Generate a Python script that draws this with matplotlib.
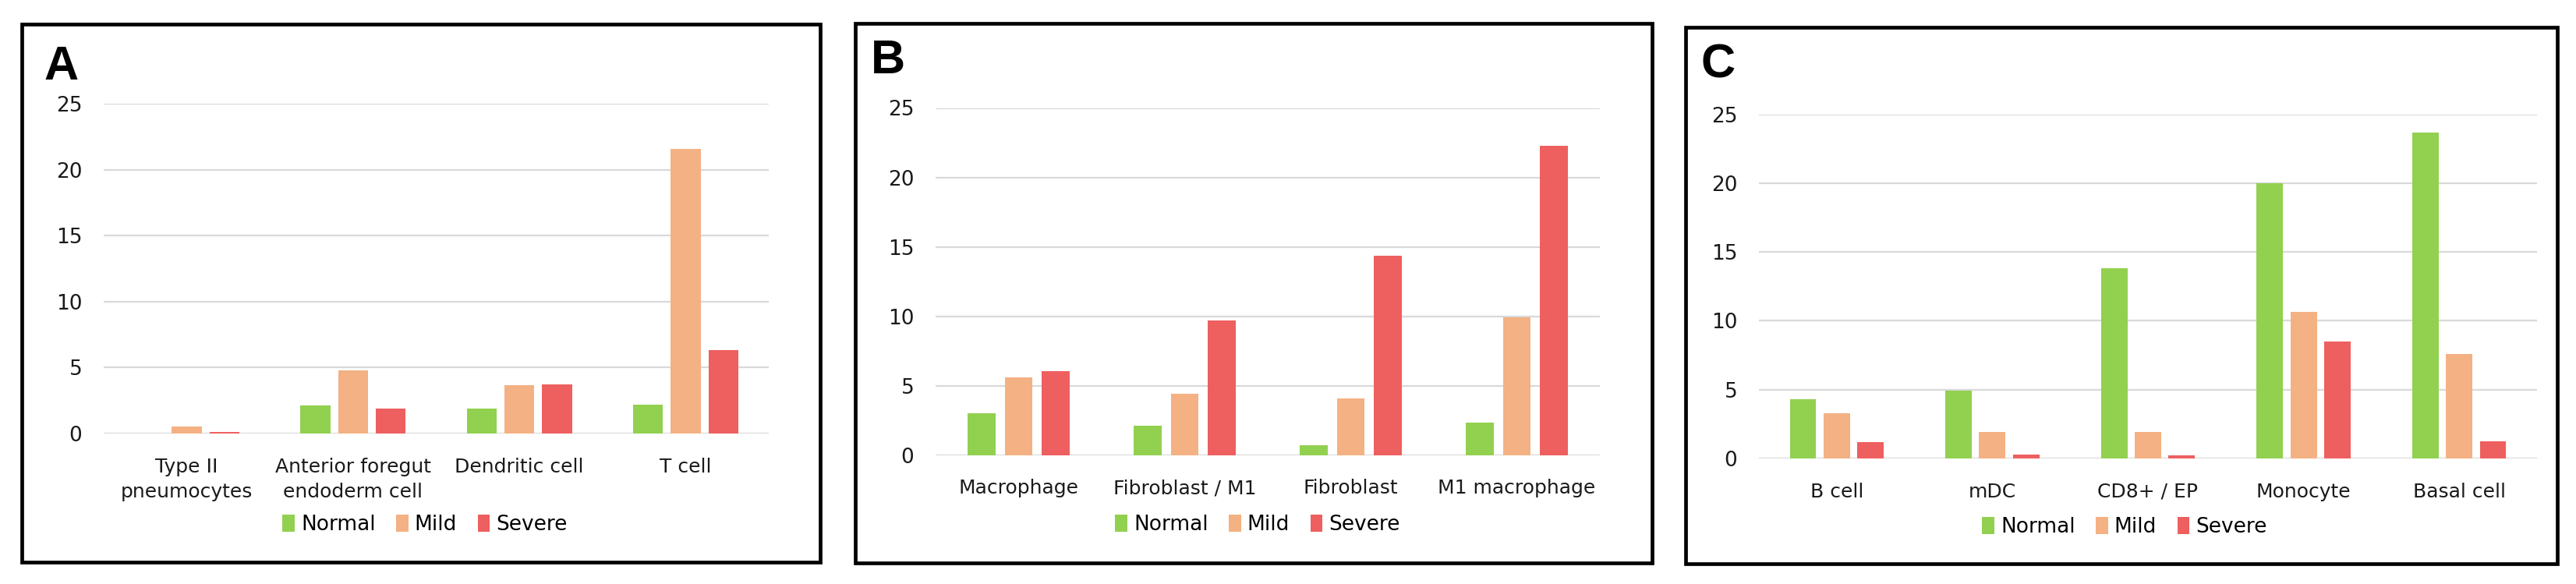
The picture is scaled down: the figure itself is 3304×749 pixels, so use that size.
import matplotlib
matplotlib.use("Agg")
import matplotlib.pyplot as plt
from matplotlib.patches import Rectangle, Patch
import numpy as np

plt.rcParams['font.family'] = ['Liberation Sans Narrow', 'DejaVu Sans']

# data
series = ['Normal', 'Mild', 'Severe']
colors = ['#92D050', '#F4B183', '#EE5F5F']

cats_a = ['Type II\npneumocytes', 'Anterior foregut\nendoderm cell', 'Dendritic cell', 'T cell']
normal_a = [0.0, 2.1, 1.9, 2.2]
mild_a = [0.55, 4.8, 3.65, 21.6]
severe_a = [0.12, 1.9, 3.75, 6.35]

cats_b = ['Macrophage', 'Fibroblast / M1', 'Fibroblast', 'M1 macrophage']
normal_b = [3.0, 2.1, 0.72, 2.35]
mild_b = [5.6, 4.4, 4.1, 9.9]
severe_b = [6.05, 9.7, 14.35, 22.3]

cats_c = ['B cell', 'mDC', 'CD8+ / EP', 'Monocyte', 'Basal cell']
normal_c = [4.3, 4.95, 13.8, 20.0, 23.7]
mild_c = [3.3, 1.9, 1.9, 10.65, 7.6]
severe_c = [1.2, 0.3, 0.22, 8.5, 1.27]

yticks = [0, 5, 10, 15, 20, 25]

W, H = 3305, 749
fig = plt.figure(figsize=(W / 100, H / 100), dpi=100)


def px_rect(x0, y0, x1, y1):
    # pixel box (top-left origin) -> figure fraction [l, b, w, h]
    return [x0 / W, 1 - y1 / H, (x1 - x0) / W, (y1 - y0) / H]


panels = [
    dict(letter='A', box=(28, 31, 1052, 721), ax=(133, 133, 986, 556), lab=(56, 58),
         cats=cats_a, vals=[normal_a, mild_a, severe_a], width=0.18, step=0.227, leg=(545, 673)),
    dict(letter='B', box=(1097, 30, 2119, 722), ax=(1200, 138.5, 2052, 583.6), lab=(1117, 50),
         cats=cats_b, vals=[normal_b, mild_b, severe_b], width=0.168, step=0.222, leg=(1613, 673)),
    dict(letter='C', box=(2162, 35, 3280, 723), ax=(2256, 146.6, 3254, 588), lab=(2182, 56),
         cats=cats_c, vals=[normal_c, mild_c, severe_c], width=0.17, step=0.217, leg=(2725, 676)),
]

for p in panels:
    bx = p['box']
    fig.patches.append(Rectangle((bx[0] / W, 1 - bx[3] / H), (bx[2] - bx[0]) / W, (bx[3] - bx[1]) / H,
                                 transform=fig.transFigure, fill=False, edgecolor='black',
                                 linewidth=3.4, zorder=10))
    fig.text(p['lab'][0] / W, 1 - p['lab'][1] / H, p['letter'], ha='left', va='top',
             fontsize=44, fontweight='bold', family=['Liberation Sans', 'DejaVu Sans'])

    ax = fig.add_axes(px_rect(*p['ax']))
    x = np.arange(len(p['cats']))
    for i, (vals, col) in enumerate(zip(p['vals'], colors)):
        ax.bar(x + (i - 1) * p['step'], vals, width=p['width'], color=col, zorder=3)
    ax.set_xlim(-0.5, len(p['cats']) - 0.5)
    ax.set_ylim(0, 25)
    ax.set_yticks(yticks)
    ax.set_yticklabels([str(t) for t in yticks])
    ax.set_xticks(x)
    ax.set_xticklabels(p['cats'], linespacing=1.45)
    ax.tick_params(axis='both', length=0, labelsize=18, colors='#1a1a1a')
    ax.tick_params(axis='y', pad=20, labelsize=19)
    ax.tick_params(axis='x', pad=22)
    ax.yaxis.grid(True, color='#D9D9D9', linewidth=1.6, zorder=0)
    ax.set_axisbelow(True)
    for s in ax.spines.values():
        s.set_visible(False)
    ax.patch.set_alpha(0)

    handles = [Patch(facecolor=c, edgecolor='none') for c in colors]
    fig.legend(handles, series, loc='center', bbox_to_anchor=(p['leg'][0] / W, 1 - p['leg'][1] / H),
               ncol=3, frameon=False, fontsize=19, handlelength=0.6, handleheight=0.9,
               handletextpad=0.3, columnspacing=1.0)

fig.savefig('out.png', dpi=100, facecolor='white')
